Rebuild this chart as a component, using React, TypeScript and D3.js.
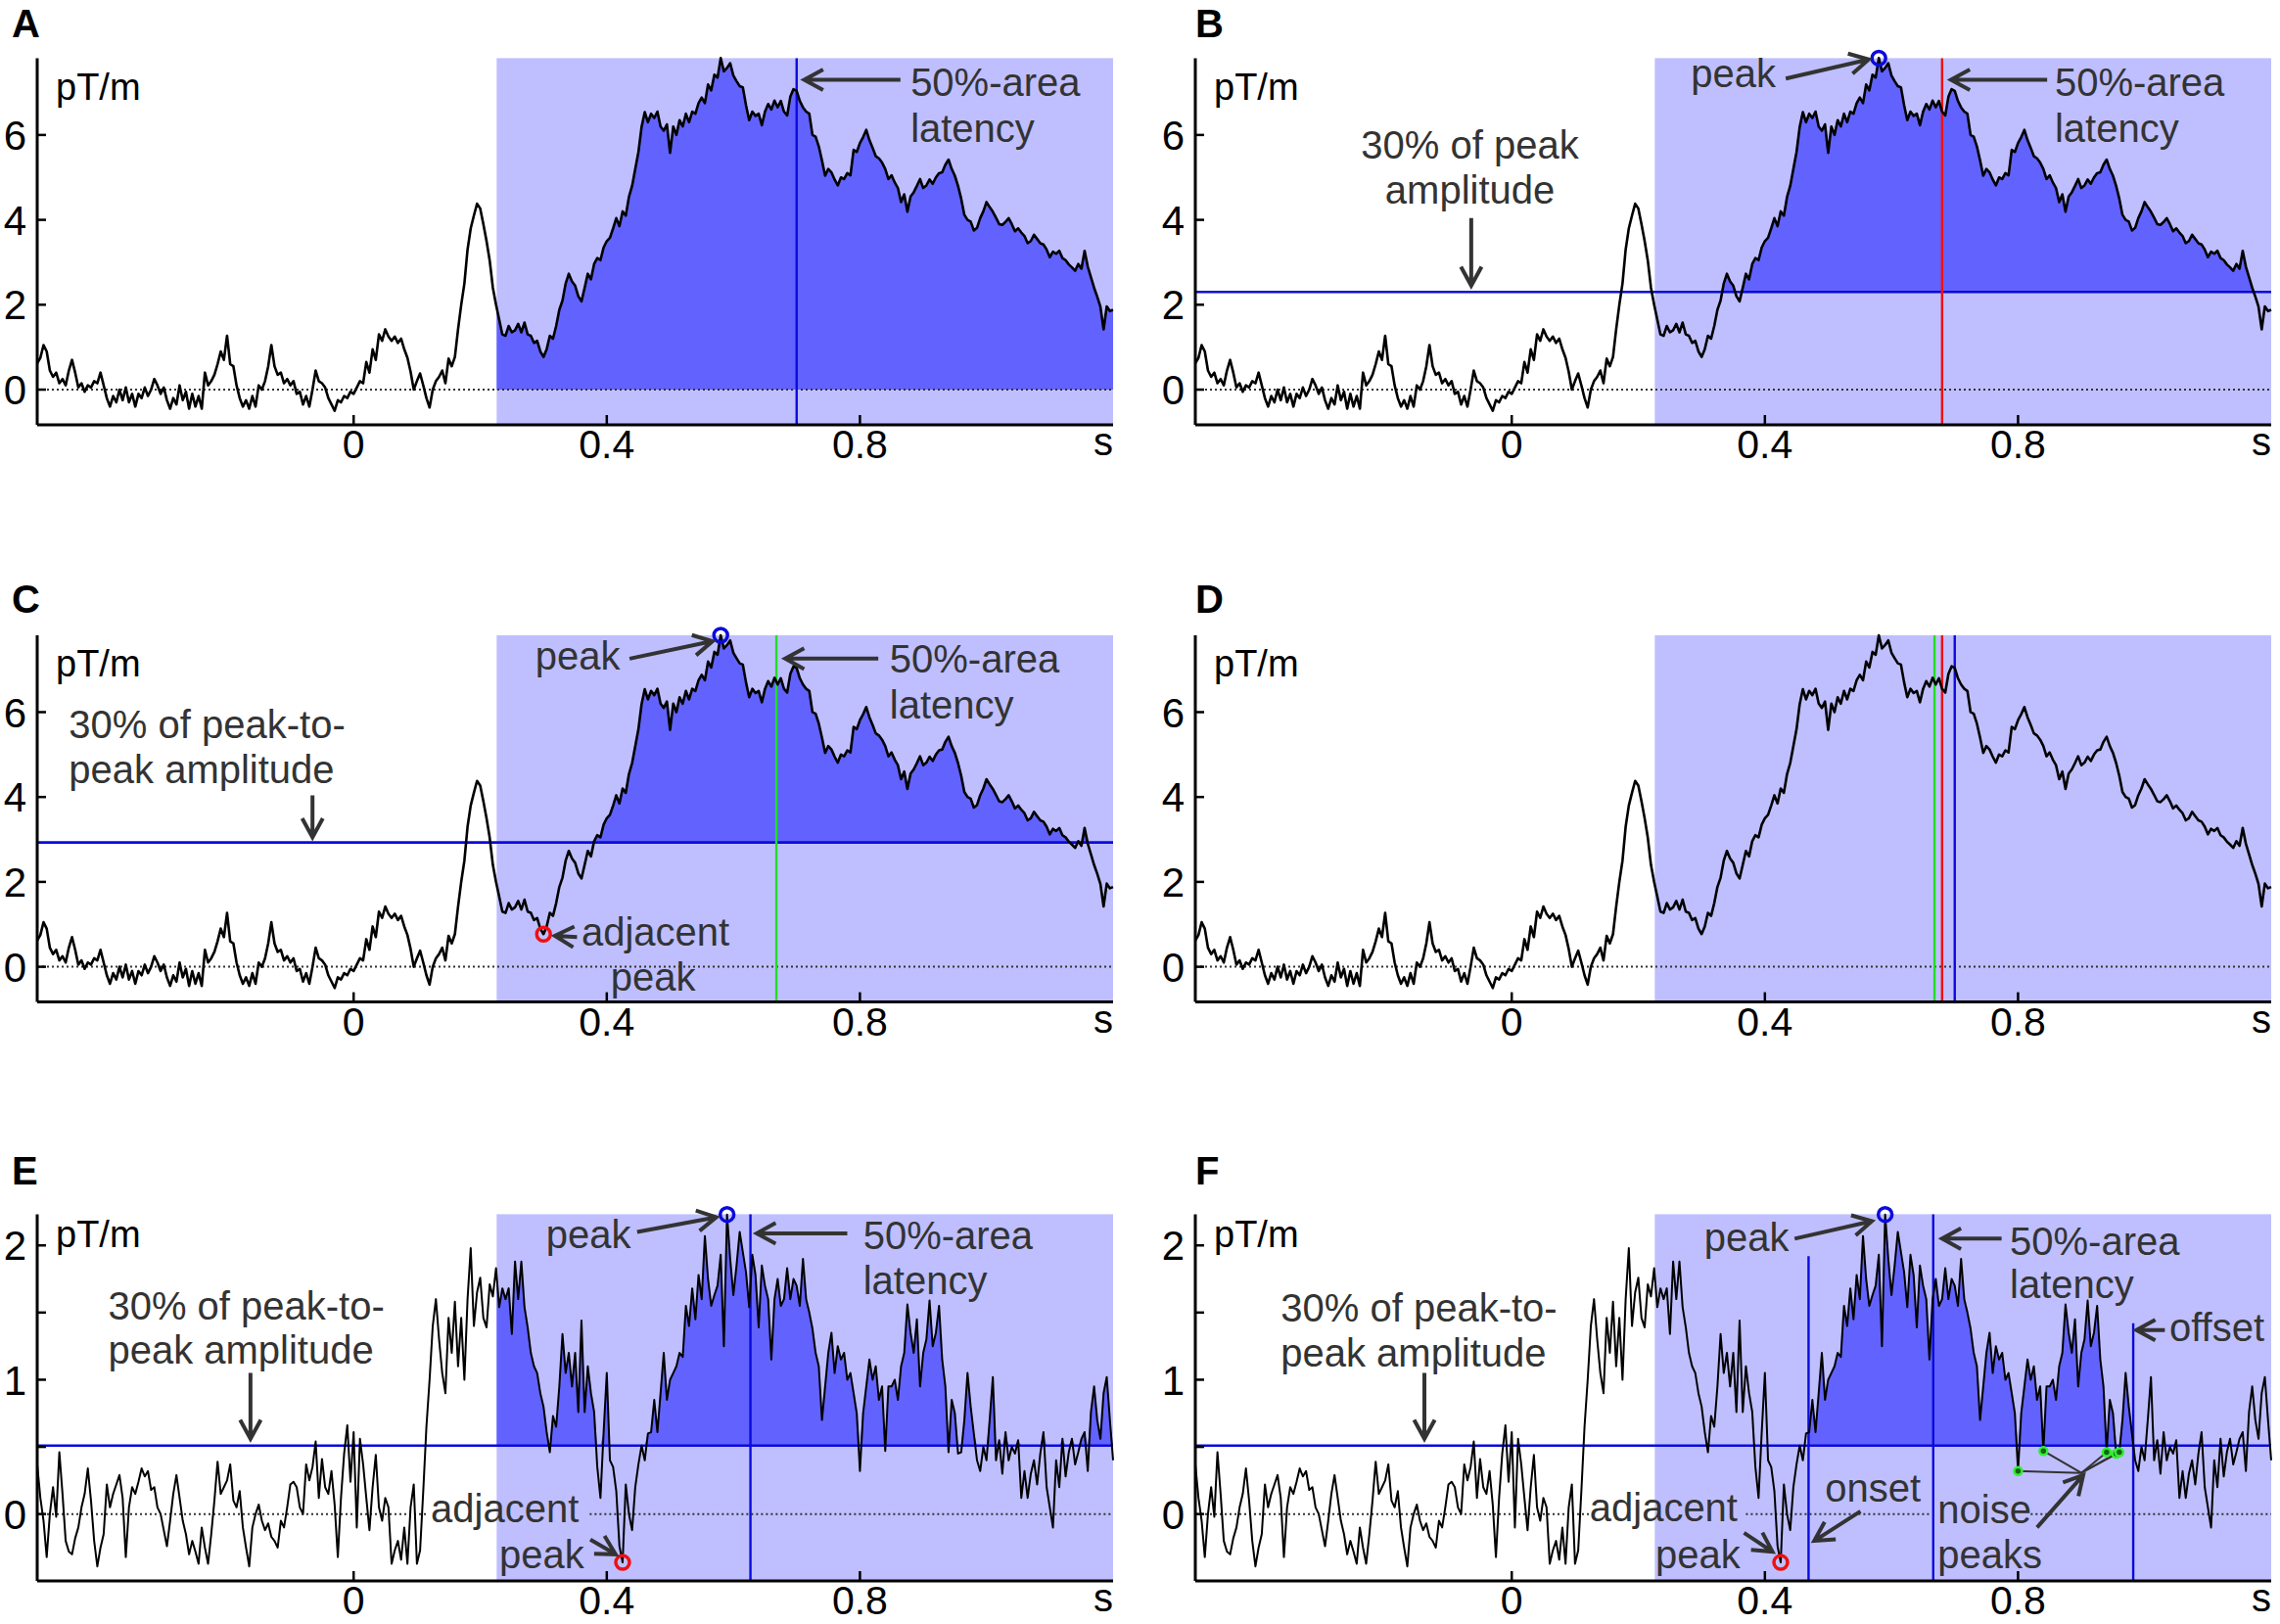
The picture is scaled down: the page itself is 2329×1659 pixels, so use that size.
import React from 'react';
import * as d3 from 'd3';

// sampling of the traces: one value every 5 ms from -0.5 s
const T0 = -0.5;
const DT = 0.005;

// gradiometer response shown in panels A-D (pT/m)
const slowResponse = [
  0.62, 0.75, 1.05, 0.90, 0.45, 0.30, 0.40, 0.15, 0.25, 0.10, 0.45, 0.70, 0.40, 0.05, 0.15, -0.05, 0.10, 0.05, 0.20, 0.15,
  0.40, 0.10, -0.20, -0.40, -0.15, -0.30, 0.00, -0.25, 0.05, -0.30, -0.10, -0.40, -0.10, -0.20, 0.05, -0.15, 0.00, 0.25, 0.10, -0.10,
  0.05, -0.25, -0.45, -0.20, -0.35, 0.10, -0.25, -0.05, -0.45, -0.10, -0.40, -0.15, -0.45, 0.40, 0.10, 0.20, 0.35, 0.60, 0.90, 0.70,
  1.27, 0.60, 0.55, 0.10, -0.20, -0.40, -0.25, -0.45, -0.15, -0.40, 0.10, 0.00, 0.20, 0.55, 1.05, 0.55, 0.35, 0.40, 0.15, 0.25,
  0.10, 0.20, -0.10, -0.05, -0.35, -0.15, -0.40, 0.00, 0.45, 0.20, 0.15, 0.05, -0.20, -0.35, -0.50, -0.25, -0.30, -0.15, -0.20, -0.05,
  -0.10, 0.05, 0.20, 0.15, 0.65, 0.40, 0.95, 0.70, 1.30, 1.15, 1.42, 1.25, 1.15, 1.25, 1.10, 1.20, 0.95, 0.75, 0.42, 0.00,
  0.20, 0.38, 0.10, -0.20, -0.42, 0.00, 0.20, 0.30, 0.45, 0.15, 0.73, 0.55, 0.77, 1.42, 2.00, 2.50, 3.30, 3.80, 4.10, 4.38,
  4.27, 3.90, 3.50, 3.04, 2.40, 2.00, 1.65, 1.30, 1.27, 1.50, 1.35, 1.40, 1.55, 1.35, 1.58, 1.30, 1.27, 1.10, 1.15, 0.90,
  0.77, 0.95, 1.27, 1.20, 1.50, 1.88, 2.10, 2.50, 2.73, 2.55, 2.45, 2.20, 2.08, 2.40, 2.73, 2.60, 2.96, 3.10, 3.05, 3.35,
  3.50, 3.58, 3.80, 4.04, 3.85, 4.20, 4.10, 4.54, 4.80, 5.20, 5.60, 6.19, 6.54, 6.30, 6.50, 6.40, 6.55, 6.20, 6.10, 6.25,
  5.58, 6.20, 6.00, 6.35, 6.20, 6.50, 6.30, 6.55, 6.50, 6.75, 6.88, 6.75, 7.19, 7.05, 7.42, 7.35, 7.81, 7.50, 7.58, 7.69,
  7.40, 7.27, 7.15, 7.12, 6.70, 6.35, 6.55, 6.45, 6.50, 6.23, 6.55, 6.73, 6.60, 6.81, 6.65, 6.80, 6.55, 6.46, 6.90, 7.08,
  7.04, 6.80, 6.65, 6.55, 6.50, 6.00, 5.96, 5.73, 5.40, 5.04, 5.20, 5.12, 4.95, 4.81, 5.00, 4.96, 5.10, 5.05, 5.65, 5.60,
  5.81, 5.95, 6.12, 5.88, 5.70, 5.50, 5.45, 5.35, 5.20, 4.96, 5.05, 4.88, 4.75, 4.42, 4.60, 4.19, 4.55, 4.65, 4.80, 4.96,
  4.75, 4.81, 4.95, 4.85, 5.00, 5.10, 5.12, 5.30, 5.42, 5.20, 5.04, 4.80, 4.50, 4.12, 4.00, 3.96, 3.75, 3.81, 4.04, 4.20,
  4.42, 4.30, 4.19, 4.05, 3.90, 3.88, 3.95, 4.04, 3.90, 3.73, 3.80, 3.70, 3.62, 3.45, 3.50, 3.65, 3.55, 3.45, 3.42, 3.30,
  3.12, 3.25, 3.20, 3.27, 3.10, 3.05, 2.95, 2.88, 2.80, 2.96, 2.85, 3.27, 2.90, 2.65, 2.40, 2.19, 1.95, 1.42, 1.96, 1.85,
  1.88,
];

// noisier response shown in panels E-F (pT/m)
const noisyResponse = [
  0.37, 0.12, -0.05, -0.32, 0.00, 0.20, -0.02, 0.46, 0.15, -0.20, -0.28, -0.30, -0.18, -0.10, 0.05, 0.15, 0.34, 0.10, -0.20, -0.39,
  -0.25, -0.15, 0.22, 0.05, 0.15, 0.22, 0.29, 0.12, -0.32, 0.05, 0.20, 0.15, 0.24, 0.34, 0.28, 0.32, 0.18, 0.20, 0.05, 0.00,
  -0.12, -0.24, -0.05, 0.15, 0.29, 0.12, -0.05, -0.15, -0.30, -0.20, -0.28, -0.37, -0.10, -0.25, -0.37, -0.15, 0.10, 0.39, 0.15, 0.20,
  0.25, 0.37, 0.10, 0.05, 0.17, -0.10, -0.25, -0.39, -0.10, 0.00, 0.07, -0.05, -0.12, -0.07, -0.17, -0.20, -0.25, -0.05, -0.10, 0.05,
  0.22, 0.24, 0.20, 0.05, 0.00, 0.37, 0.25, 0.35, 0.54, 0.12, 0.41, 0.20, 0.15, 0.32, 0.07, -0.32, 0.12, 0.45, 0.66, 0.24,
  0.61, -0.10, 0.56, 0.37, 0.12, -0.12, 0.20, 0.44, 0.05, -0.05, 0.12, 0.05, -0.37, -0.27, -0.20, -0.34, -0.10, -0.37, 0.05, 0.22,
  -0.37, -0.27, 0.17, 0.65, 1.00, 1.40, 1.60, 1.30, 1.05, 0.90, 1.46, 1.20, 1.58, 1.10, 1.46, 1.00, 1.60, 1.98, 1.40, 1.65,
  1.76, 1.46, 1.39, 1.71, 1.62, 1.83, 1.54, 1.68, 1.60, 1.68, 1.34, 1.88, 1.60, 1.88, 1.54, 1.39, 1.20, 1.10, 1.05, 0.90,
  0.80, 0.61, 0.46, 0.73, 0.65, 0.95, 1.34, 1.05, 1.20, 0.95, 1.20, 0.76, 1.44, 0.76, 1.10, 0.90, 0.76, 0.35, 0.12, 0.61,
  1.05, 0.40, 0.35, 0.17, -0.24, -0.36, 0.22, 0.00, -0.12, 0.20, 0.37, 0.51, 0.40, 0.60, 0.61, 0.85, 0.61, 0.90, 1.20, 0.85,
  1.00, 1.05, 1.10, 1.20, 1.17, 1.55, 1.40, 1.68, 1.45, 1.78, 1.60, 2.07, 1.75, 1.55, 1.63, 1.70, 1.93, 1.25, 2.23, 1.90,
  1.63, 1.85, 2.10, 1.95, 1.80, 1.54, 1.93, 1.78, 1.39, 1.85, 1.70, 1.60, 1.15, 1.60, 1.75, 1.55, 1.60, 1.83, 1.60, 1.75,
  1.70, 1.55, 1.90, 1.60, 1.50, 1.38, 1.20, 1.10, 0.70, 0.95, 1.20, 1.35, 1.05, 1.25, 1.15, 1.20, 1.00, 1.05, 0.90, 0.75,
  0.32, 0.75, 0.95, 1.15, 1.00, 1.10, 0.85, 0.95, 0.47, 0.95, 0.95, 1.00, 0.85, 1.10, 1.20, 1.56, 1.35, 1.20, 1.45, 0.95,
  1.20, 1.30, 1.59, 1.25, 1.35, 1.55, 1.15, 0.95, 0.46, 0.85, 0.75, 0.45, 0.46, 0.70, 1.05, 0.80, 0.60, 0.40, 0.32, 0.50,
  0.40, 0.70, 1.02, 0.40, 0.55, 0.30, 0.61, 0.40, 0.50, 0.45, 0.55, 0.12, 0.32, 0.12, 0.30, 0.40, 0.22, 0.45, 0.61, 0.20,
  0.05, -0.10, 0.40, 0.20, 0.56, 0.28, 0.46, 0.56, 0.37, 0.46, 0.56, 0.61, 0.32, 0.76, 0.95, 0.70, 0.56, 0.90, 1.02, 0.70,
  0.40,
];

const xTickValues = [0, 0.4, 0.8];
const slowYTicks = [0, 2, 4, 6];
const slowYLabels = ['0', '2', '4', '6'];
const noisyYTicks = [0, 0.5, 1, 1.5, 2];
const noisyYLabels = ['0', '', '1', '', '2'];

const windowStart = 0.226;
const windowEnd = 1.2;

const latencyA = 0.7;
const latencyB = 0.68;
const latencyC = 0.668;
const latencyE = 0.627;
const latencyF = 0.666;
const thresholdB = 2.3;
const thresholdC = 2.93;
const thresholdEF = 0.51;
const onsetF = 0.469;
const offsetF = 0.982;

const peakSlow: [number, number] = [0.58, 7.81];
const adjacentSlow: [number, number] = [0.3, 0.77];
const peakNoisy: [number, number] = [0.59, 2.23];
const adjacentNoisy: [number, number] = [0.425, -0.36];

const noisePeakTimes = [0.8, 0.84, 0.94, 0.955, 0.96];
const noisePeakValues = [0.32, 0.47, 0.46, 0.45, 0.46];

// layout
const W = 2329;
const H = 1659;
const COL = [38, 1221];
const ROW = [59.4, 649, 1240.4];
const PW = 1099;
const PH = 374.6;
const FONT = "'Liberation Sans', Arial, Helvetica, sans-serif";
const INK = '#333333';
const BLUE = '#0b0bdc';
const RED = '#ee1111';
const GREEN = '#22dd22';

type Pt = [number, number];
interface Note { at: Pt; text: string; anchor?: 'start' | 'middle' | 'end' }
interface VLine { t: number; color: string; from?: number }
interface Marker { at: Pt; color: string }

interface PanelProps {
  id: string;
  letter: string;
  col: number;
  row: number;
  values: number[];
  yDomain: [number, number];
  yTicks: number[];
  yLabels: string[];
  unitV: number;
  traceWidth: number;
  fill?: { thr: number; t0: number; t1: number };
  hline?: number;
  vlines?: VLine[];
  markers?: Marker[];
  notes?: Note[];
  arrows?: [Pt, Pt][];
  zeroSegs: [number, number][];
  noise?: { ts: number[]; vs: number[]; hub: Pt };
}

function arrowPath(x1: number, y1: number, x2: number, y2: number) {
  const a = Math.atan2(y2 - y1, x2 - x1);
  const L = 22;
  const s = 0.5;
  const b1x = x2 - L * Math.cos(a - s);
  const b1y = y2 - L * Math.sin(a - s);
  const b2x = x2 - L * Math.cos(a + s);
  const b2y = y2 - L * Math.sin(a + s);
  return `M${x1},${y1}L${x2},${y2}M${b1x},${b1y}L${x2},${y2}L${b2x},${b2y}`;
}

const Panel: React.FC<PanelProps> = (p) => {
  const left = COL[p.col];
  const top = ROW[p.row];
  const bottom = top + PH;
  const right = left + PW;
  const x = d3.scaleLinear().domain([-0.5, 1.2]).range([left, right]);
  const y = d3.scaleLinear().domain(p.yDomain).range([bottom, top]);
  const times = p.values.map((_, i) => T0 + i * DT);

  const line = d3.line<number>().x((_, i) => x(times[i])).y((d) => y(d));
  const area = p.fill
    ? d3.area<number>()
        .x((_, i) => x(times[i]))
        .y0(y(p.fill.thr))
        .y1((d) => y(Math.max(d, p.fill!.thr)))
    : null;

  const letterX = p.col === 0 ? 12 : 1221;
  const letterY = [38, 626, 1210][p.row];

  return (
    <g>
      <defs>
        {p.fill && (
          <clipPath id={`clip-${p.id}`}>
            <rect x={x(p.fill.t0)} y={top} width={x(p.fill.t1) - x(p.fill.t0)} height={PH} />
          </clipPath>
        )}
      </defs>
      <text x={letterX} y={letterY} fontFamily={FONT} fontWeight="bold" fontSize={40} fill="#000">
        {p.letter}
      </text>

      {/* analysis window */}
      <rect x={x(windowStart)} y={top} width={x(windowEnd) - x(windowStart)} height={PH} fill="#bfbfff" />

      {area && (
        <path d={area(p.values) || ''} fill="#6262ff" clipPath={`url(#clip-${p.id})`} />
      )}

      {p.zeroSegs.map(([a, b], i) => (
        <line key={i} x1={x(a)} x2={x(b)} y1={y(0)} y2={y(0)} stroke={INK} strokeWidth={2} strokeDasharray="2 3" />
      ))}

      {p.hline !== undefined && (
        <line x1={left} x2={right} y1={y(p.hline)} y2={y(p.hline)} stroke={BLUE} strokeWidth={2.6} />
      )}

      {p.vlines?.map((v, i) => (
        <line
          key={i}
          x1={x(v.t)}
          x2={x(v.t)}
          y1={v.from !== undefined ? y(v.from) : top}
          y2={bottom}
          stroke={v.color}
          strokeWidth={2.4}
        />
      ))}

      <path d={line(p.values) || ''} fill="none" stroke="#000" strokeWidth={p.traceWidth} strokeLinejoin="round" />

      {p.noise && (
        <g>
          {p.noise.ts.map((t, i) => (
            <line
              key={`nl${i}`}
              x1={x(t)}
              y1={y(p.noise!.vs[i])}
              x2={x(p.noise!.hub[0])}
              y2={y(p.noise!.hub[1])}
              stroke={INK}
              strokeWidth={2}
            />
          ))}
          {p.noise.ts.map((t, i) => (
            <circle key={`nc${i}`} cx={x(t)} cy={y(p.noise!.vs[i])} r={4} fill="#116611" stroke="#33ee33" strokeWidth={2.5} />
          ))}
        </g>
      )}

      {p.markers?.map((m, i) => (
        <circle key={i} cx={x(m.at[0])} cy={y(m.at[1])} r={7} fill="none" stroke={m.color} strokeWidth={3.5} />
      ))}

      {p.arrows?.map(([a, b], i) => (
        <path
          key={i}
          d={arrowPath(x(a[0]), y(a[1]), x(b[0]), y(b[1]))}
          fill="none"
          stroke={INK}
          strokeWidth={4}
        />
      ))}

      {p.notes?.map((n, i) => (
        <text
          key={i}
          x={x(n.at[0])}
          y={y(n.at[1])}
          fontFamily={FONT}
          fontSize={40}
          fill={INK}
          textAnchor={n.anchor || 'start'}
        >
          {n.text}
        </text>
      ))}

      {/* axes */}
      <line x1={left} x2={left} y1={top} y2={bottom} stroke="#000" strokeWidth={3} />
      <line x1={left} x2={right} y1={bottom} y2={bottom} stroke="#000" strokeWidth={3} />
      {p.yTicks.map((t, i) => (
        <g key={`yt${i}`}>
          <line x1={left} x2={left + 9} y1={y(t)} y2={y(t)} stroke="#000" strokeWidth={2.5} />
          {p.yLabels[i] && (
            <text
              x={left - 11}
              y={y(t)}
              dy="0.36em"
              textAnchor="end"
              fontFamily={FONT}
              fontSize={42}
              fill="#000"
            >
              {p.yLabels[i]}
            </text>
          )}
        </g>
      ))}
      {xTickValues.map((t) => (
        <g key={`xt${t}`}>
          <line x1={x(t)} x2={x(t)} y1={bottom} y2={bottom - 10} stroke="#000" strokeWidth={2.5} />
          <text x={x(t)} y={bottom + 34} textAnchor="middle" fontFamily={FONT} fontSize={41} fill="#000">
            {d3.format('~g')(t)}
          </text>
        </g>
      ))}
      <text x={right} y={bottom + 31} textAnchor="end" fontFamily={FONT} fontSize={40} fill="#000">
        s
      </text>
      <text x={left + 19} y={y(p.unitV)} fontFamily={FONT} fontSize={38} fill="#000">
        pT/m
      </text>
    </g>
  );
};

const slowBase = {
  values: slowResponse,
  yDomain: [-0.83, 7.81] as [number, number],
  yTicks: slowYTicks,
  yLabels: slowYLabels,
  unitV: 6.83,
  traceWidth: 2.6,
  zeroSegs: [[-0.5, 1.2]] as [number, number][],
};

const noisyBase = {
  values: noisyResponse,
  yDomain: [-0.498, 2.232] as [number, number],
  yTicks: noisyYTicks,
  yLabels: noisyYLabels,
  unitV: 1.99,
  traceWidth: 2,
};

export default function App() {
  return (
    <svg
      width={W}
      height={H}
      viewBox={`0 0 ${W} ${H}`}
      style={{ position: 'absolute', left: 0, top: 0, background: '#fff' }}
    >
      <rect x={0} y={0} width={W} height={H} fill="#fff" />

      <Panel
        id="a"
        letter="A"
        col={0}
        row={0}
        {...slowBase}
        fill={{ thr: 0, t0: windowStart, t1: windowEnd }}
        vlines={[{ t: latencyA, color: BLUE }]}
        notes={[
          { at: [0.88, 6.92], text: '50%-area' },
          { at: [0.88, 5.84], text: 'latency' },
        ]}
        arrows={[[[0.864, 7.3], [0.712, 7.3]]]}
      />

      <Panel
        id="b"
        letter="B"
        col={1}
        row={0}
        {...slowBase}
        fill={{ thr: thresholdB, t0: windowStart, t1: windowEnd }}
        hline={thresholdB}
        vlines={[{ t: latencyB, color: RED }]}
        markers={[{ at: peakSlow, color: BLUE }]}
        notes={[
          { at: [0.858, 6.92], text: '50%-area' },
          { at: [0.858, 5.84], text: 'latency' },
          { at: [0.283, 7.13], text: 'peak' },
          { at: [-0.066, 5.44], text: '30% of peak', anchor: 'middle' },
          { at: [-0.066, 4.38], text: 'amplitude', anchor: 'middle' },
        ]}
        arrows={[
          [[0.846, 7.3], [0.694, 7.3]],
          [[0.433, 7.33], [0.564, 7.78]],
          [[-0.064, 4.04], [-0.064, 2.45]],
        ]}
      />

      <Panel
        id="c"
        letter="C"
        col={0}
        row={1}
        {...slowBase}
        fill={{ thr: thresholdC, t0: windowStart, t1: windowEnd }}
        hline={thresholdC}
        vlines={[{ t: latencyC, color: GREEN }]}
        markers={[
          { at: peakSlow, color: BLUE },
          { at: adjacentSlow, color: RED },
        ]}
        notes={[
          { at: [0.847, 6.93], text: '50%-area' },
          { at: [0.847, 5.86], text: 'latency' },
          { at: [0.287, 7.0], text: 'peak' },
          { at: [-0.45, 5.38], text: '30% of peak-to-' },
          { at: [-0.45, 4.32], text: 'peak amplitude' },
          { at: [0.36, 0.51], text: 'adjacent' },
          { at: [0.406, -0.56], text: 'peak' },
        ]}
        arrows={[
          [[0.829, 7.26], [0.682, 7.26]],
          [[0.436, 7.26], [0.567, 7.67]],
          [[-0.065, 4.04], [-0.065, 3.05]],
          [[0.353, 0.7], [0.318, 0.73]],
        ]}
      />

      <Panel
        id="d"
        letter="D"
        col={1}
        row={1}
        {...slowBase}
        vlines={[
          { t: latencyC, color: GREEN },
          { t: latencyB, color: RED },
          { t: latencyA, color: BLUE },
        ]}
      />

      <Panel
        id="e"
        letter="E"
        col={0}
        row={2}
        {...noisyBase}
        zeroSegs={[[-0.5, 0.116], [0.373, 1.2]]}
        fill={{ thr: thresholdEF, t0: windowStart, t1: windowEnd }}
        hline={thresholdEF}
        vlines={[{ t: latencyE, color: BLUE }]}
        markers={[
          { at: peakNoisy, color: BLUE },
          { at: adjacentNoisy, color: RED },
        ]}
        notes={[
          { at: [0.304, 1.98], text: 'peak' },
          { at: [0.805, 1.97], text: '50%-area' },
          { at: [0.805, 1.64], text: 'latency' },
          { at: [-0.388, 1.45], text: '30% of peak-to-' },
          { at: [-0.388, 1.12], text: 'peak amplitude' },
          { at: [0.122, -0.06], text: 'adjacent' },
          { at: [0.23, -0.4], text: 'peak' },
        ]}
        arrows={[
          [[0.448, 2.1], [0.573, 2.21]],
          [[0.78, 2.09], [0.637, 2.09]],
          [[-0.163, 1.05], [-0.163, 0.56]],
          [[0.374, -0.19], [0.414, -0.3]],
        ]}
      />

      <Panel
        id="f"
        letter="F"
        col={1}
        row={2}
        {...noisyBase}
        zeroSegs={[[-0.5, 0.125], [0.37, 0.66], [0.82, 1.2]]}
        fill={{ thr: thresholdEF, t0: onsetF, t1: offsetF }}
        hline={thresholdEF}
        vlines={[
          { t: onsetF, color: BLUE, from: 1.92 },
          { t: latencyF, color: BLUE },
          { t: offsetF, color: BLUE, from: 1.42 },
        ]}
        markers={[
          { at: peakNoisy, color: BLUE },
          { at: adjacentNoisy, color: RED },
        ]}
        noise={{ ts: noisePeakTimes, vs: noisePeakValues, hub: [0.9, 0.306] }}
        notes={[
          { at: [0.304, 1.96], text: 'peak' },
          { at: [0.787, 1.93], text: '50%-area' },
          { at: [0.787, 1.61], text: 'latency' },
          { at: [1.039, 1.29], text: 'offset' },
          { at: [0.495, 0.09], text: 'onset' },
          { at: [0.673, -0.065], text: 'noise' },
          { at: [0.673, -0.4], text: 'peaks' },
          { at: [0.123, -0.05], text: 'adjacent' },
          { at: [0.227, -0.4], text: 'peak' },
          { at: [-0.365, 1.43], text: '30% of peak-to-' },
          { at: [-0.365, 1.1], text: 'peak amplitude' },
        ]}
        arrows={[
          [[0.447, 2.05], [0.569, 2.18]],
          [[0.774, 2.05], [0.68, 2.05]],
          [[1.032, 1.37], [0.987, 1.37]],
          [[0.551, 0.02], [0.478, -0.2]],
          [[0.83, -0.1], [0.903, 0.29]],
          [[0.367, -0.14], [0.412, -0.28]],
          [[-0.138, 1.05], [-0.138, 0.56]],
        ]}
      />
    </svg>
  );
}
